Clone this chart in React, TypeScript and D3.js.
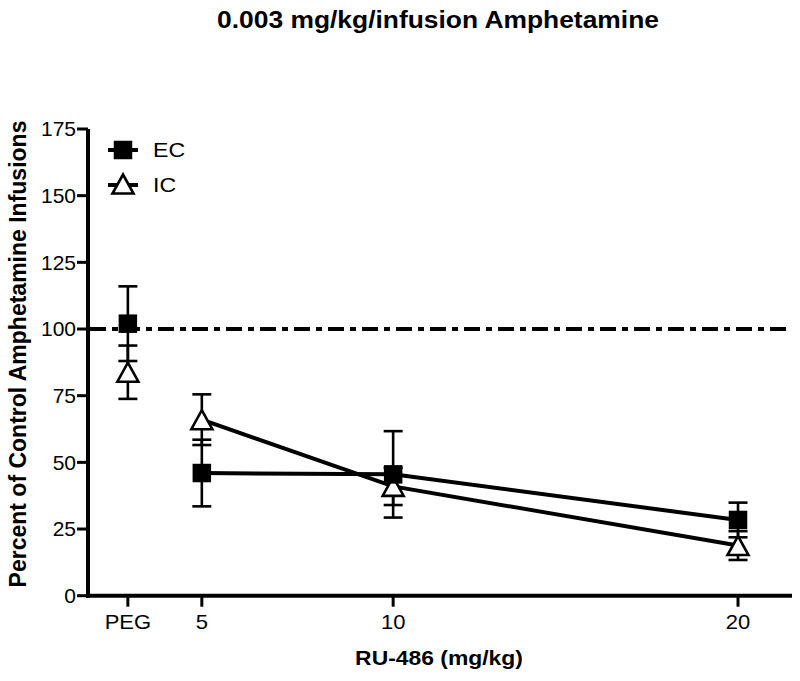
import React from "react";
import * as d3 from "d3";

// ---- data ----
const doseLabels = ["PEG", "5", "10", "20"];
// plotting position of each dose on the (non-linear) dose axis; PEG is the vehicle control slot
const dosePositions = [3.23, 5, 10, 20];
const ecMeans = [102, 46, 45.5, 28.4];
const ecSems = [14, 12.5, 16.2, 6.5];
const icMeans = [83.8, 66, 41, 18.8];
const icSems = [10, 9.5, 7, 5.4];
const yTicks = [0, 25, 50, 75, 100, 125, 150, 175];
const controlLevel = 100;
const seriesNames = ["EC", "IC"];

const W = 800;
const H = 681;
const FONT = "'Liberation Sans', Arial, Helvetica, sans-serif";

export default function App() {
  const x = d3.scalePow().exponent(0.85).domain([2.33, 21.65]).range([88, 792]);
  const y = d3.scaleLinear().domain([0, 175]).range([595.7, 129]);

  const lineGen = d3
    .line<{ d: number; v: number }>()
    .x((p) => x(p.d))
    .y((p) => y(p.v));

  const ecLine = dosePositions.slice(1).map((d, i) => ({ d, v: ecMeans[i + 1] }));
  const icLine = dosePositions.slice(1).map((d, i) => ({ d, v: icMeans[i + 1] }));

  const sq = 18.5;
  const triW = 21;
  const triH = 19;
  const triPath = (cx: number, cy: number) =>
    `M${cx},${cy - triH / 2}L${cx + triW / 2},${cy + triH / 2}L${cx - triW / 2},${cy + triH / 2}Z`;

  const errBars = (means: number[], sems: number[], key: string) =>
    dosePositions.map((d, i) => {
      const cx = x(d);
      const y1 = y(means[i] + sems[i]);
      const y0 = y(means[i] - sems[i]);
      return (
        <g key={key + i} stroke="#000" strokeWidth={2.6}>
          <line x1={cx} x2={cx} y1={y1} y2={y0} />
          <line x1={cx - 9.5} x2={cx + 9.5} y1={y1} y2={y1} />
          <line x1={cx - 9.5} x2={cx + 9.5} y1={y0} y2={y0} />
        </g>
      );
    });

  const xAxisY = y(0);
  const yAxisX = x.range()[0];

  return (
    <svg
      width={W}
      height={H}
      style={{ position: "absolute", left: 0, top: 0, display: "block", background: "#fff" }}
      fontFamily={FONT}
    >
      <rect width={W} height={H} fill="#fff" />
      {/* title */}
      <text
        transform={`translate(438,28) scale(1.1,1)`}
        textAnchor="middle"
        fontWeight="bold"
        fontSize={24}
      >
        0.003 mg/kg/infusion Amphetamine
      </text>

      {/* control reference line */}
      <line
        x1={yAxisX + 2}
        x2={790}
        y1={y(controlLevel)}
        y2={y(controlLevel)}
        stroke="#000"
        strokeWidth={4}
        strokeDasharray="16 6 6 6"
      />

      {/* y axis */}
      <line x1={yAxisX} x2={yAxisX} y1={y(175)} y2={xAxisY + 2} stroke="#000" strokeWidth={4} />
      {yTicks.map((t) => (
        <g key={"yt" + t}>
          <line x1={yAxisX - 11} x2={yAxisX} y1={y(t)} y2={y(t)} stroke="#000" strokeWidth={3} />
          <text
            transform={`translate(${yAxisX - 12},${y(t)}) scale(1.05,1)`}
            textAnchor="end"
            dy="0.36em"
            fontSize={20}
          >
            {t}
          </text>
        </g>
      ))}
      <text
        transform={`translate(26,${354}) rotate(-90)`}
        textAnchor="middle"
        fontWeight="bold"
        fontSize={23}
      >
        Percent of Control Amphetamine Infusions
      </text>

      {/* x axis */}
      <line x1={yAxisX - 2} x2={x.range()[1]} y1={xAxisY} y2={xAxisY} stroke="#000" strokeWidth={4} />
      {dosePositions.map((d, i) => (
        <g key={"xt" + i}>
          <line x1={x(d)} x2={x(d)} y1={xAxisY} y2={xAxisY + 11} stroke="#000" strokeWidth={3} />
          <text
            transform={`translate(${x(d)},629) scale(1.1,1)`}
            textAnchor="middle"
            fontSize={20}
          >
            {doseLabels[i]}
          </text>
        </g>
      ))}
      <text
        transform={`translate(439,665) scale(1.09,1)`}
        textAnchor="middle"
        fontWeight="bold"
        fontSize={21}
      >
        RU-486 (mg/kg)
      </text>

      {/* error bars */}
      {errBars(icMeans, icSems, "ie")}
      {errBars(ecMeans, ecSems, "ee")}

      {/* lines */}
      <path d={lineGen(icLine) || ""} fill="none" stroke="#000" strokeWidth={4} />
      <path d={lineGen(ecLine) || ""} fill="none" stroke="#000" strokeWidth={4} />

      {/* markers */}
      {dosePositions.map((d, i) => (
        <path key={"ic" + i} d={triPath(x(d), y(icMeans[i]))} fill="#fff" stroke="#000" strokeWidth={2.6} />
      ))}
      {dosePositions.map((d, i) => (
        <rect key={"ec" + i} x={x(d) - sq / 2} y={y(ecMeans[i]) - sq / 2} width={sq} height={sq} fill="#000" />
      ))}

      {/* legend */}
      <g>
        <line x1={108} x2={138} y1={150} y2={150} stroke="#000" strokeWidth={4} />
        <rect x={123 - sq / 2} y={150 - sq / 2} width={sq} height={sq} fill="#000" />
        <text transform={`translate(153,157) scale(1.1,1)`} fontSize={21}>
          {seriesNames[0]}
        </text>
        <line x1={108} x2={138} y1={185} y2={185} stroke="#000" strokeWidth={4} />
        <path d={triPath(123, 184)} fill="#fff" stroke="#000" strokeWidth={2.6} />
        <text transform={`translate(153,192) scale(1.1,1)`} fontSize={21}>
          {seriesNames[1]}
        </text>
      </g>
    </svg>
  );
}
